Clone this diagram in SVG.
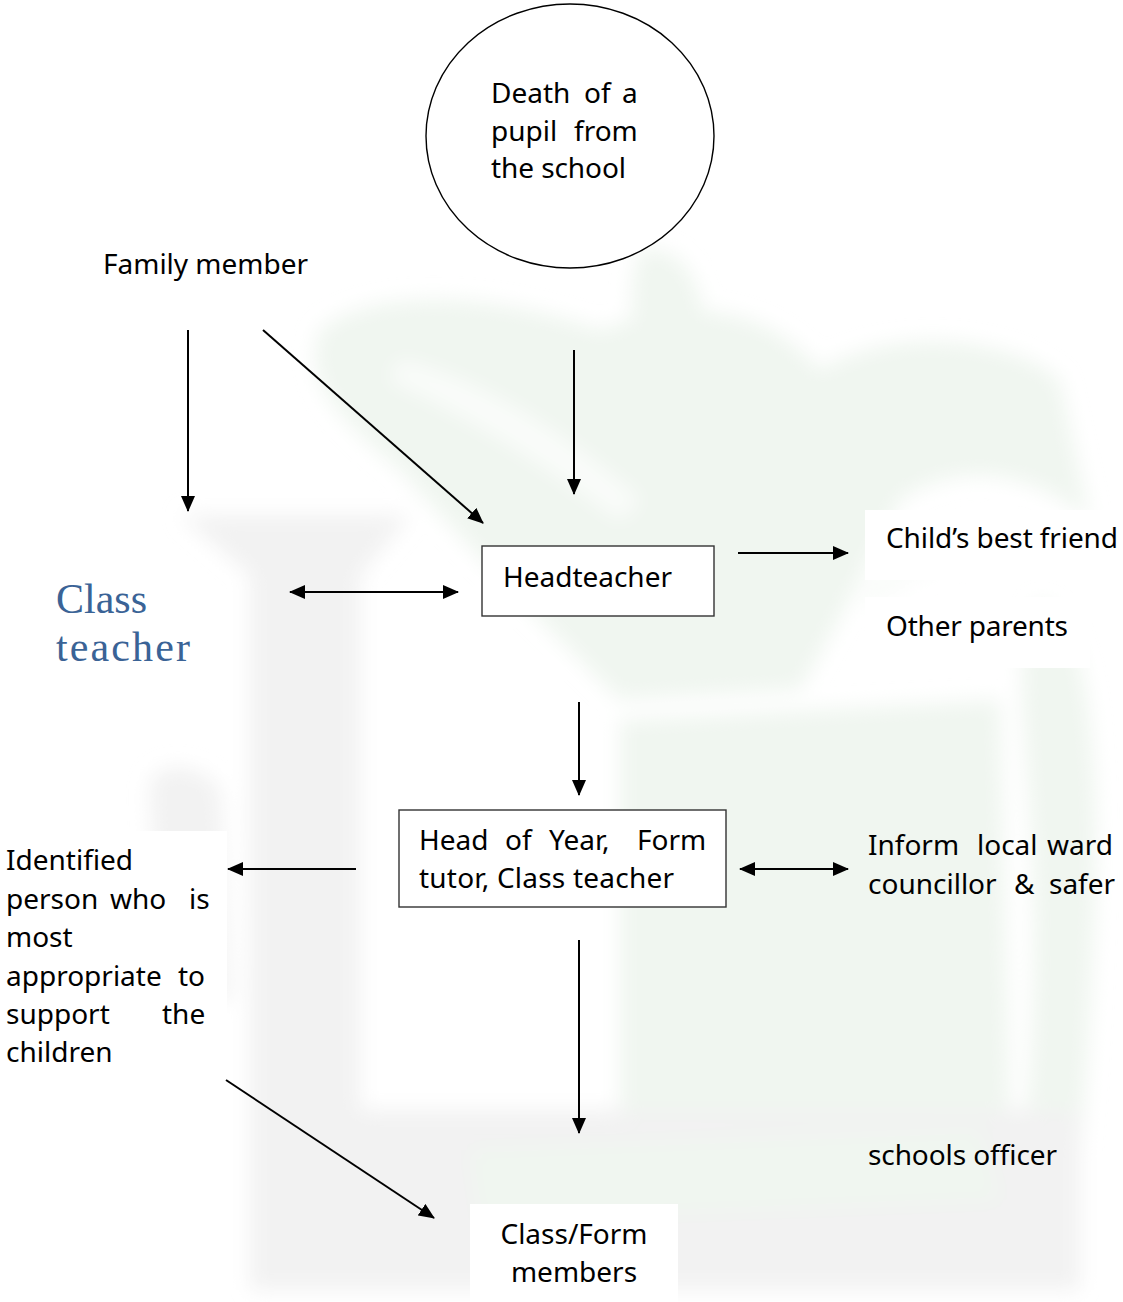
<svg xmlns="http://www.w3.org/2000/svg" width="1123" height="1302" viewBox="0 0 1123 1302">
  <style>
    .t { font-family: "Noto Sans", "Open Sans", sans-serif; font-size: 28px; fill: #000; }
    .serif { font-family: "Liberation Serif", "DejaVu Serif", serif; font-size: 42px; fill: #3a6396; }
    .box { fill: #fff; stroke: #333; stroke-width: 1.4; }
    .pad { fill: #fff; }
    .conn line { stroke: #000; stroke-width: 2; fill: none; }
    .wm-g { fill: #f0f6f0; }
    .wm-k { fill: #f2f2f2; }
    .wm-w { fill: #fafcfa; }
  </style>
  <defs>
    <marker id="arrow" viewBox="0 0 16 14" refX="15" refY="7" markerWidth="16" markerHeight="14" markerUnits="userSpaceOnUse" orient="auto-start-reverse">
      <path d="M0,0 L16,7 L0,14 z" fill="#000"/>
    </marker>
    <filter id="soft" x="-20%" y="-20%" width="140%" height="140%">
      <feGaussianBlur stdDeviation="10"/>
    </filter>
  </defs>

  <rect width="1123" height="1302" fill="#fff"/>

  <!-- faint background emblem -->
  <g id="emblem" filter="url(#soft)">
    <path class="wm-g" d="M320,330 C380,280 520,300 600,330 C680,300 760,300 820,370 C880,330 1000,330 1060,380 L1090,520 C1030,470 960,460 900,500 C870,560 840,620 800,690 L620,700 C560,640 480,560 400,470 C340,420 300,380 320,330 z"/>
    <path class="wm-g" d="M640,250 C690,240 720,300 700,420 L660,460 C640,380 620,300 640,250 z"/>
    <path class="wm-w" d="M400,360 C480,380 560,430 640,500 L620,520 C540,460 460,410 390,380 z"/>
    <path class="wm-w" d="M860,590 C900,560 960,530 1000,520 L1010,540 C960,555 910,580 870,610 z"/>
    <path class="wm-g" d="M1040,600 C1080,620 1100,700 1095,900 C1090,1050 1080,1200 1060,1290 L1000,1290 C1030,1150 1040,980 1030,820 C1025,720 1010,640 1040,600 z"/>
    <path class="wm-g" d="M620,720 L1000,700 L1010,1120 L620,1120 z"/>
    <path class="wm-k" d="M180,515 L410,515 L360,575 L360,1110 L1080,1110 L1080,1290 L250,1290 L250,575 z"/>
    <path class="wm-k" d="M150,790 C150,760 200,760 220,790 L230,1000 L160,1000 z"/>
    <path class="wm-g" d="M470,1150 L980,1130 L1000,1200 L480,1220 z"/>
  </g>

  <!-- connectors -->
  <g id="connectors" class="conn">
    <line x1="188" y1="330" x2="188" y2="511" marker-end="url(#arrow)"/>
    <line x1="263" y1="330" x2="483" y2="523" marker-end="url(#arrow)"/>
    <line x1="574" y1="350" x2="574" y2="494" marker-end="url(#arrow)"/>
    <line x1="290" y1="592" x2="458" y2="592" marker-start="url(#arrow)" marker-end="url(#arrow)"/>
    <line x1="738" y1="553" x2="848" y2="553" marker-end="url(#arrow)"/>
    <line x1="579" y1="702" x2="579" y2="795" marker-end="url(#arrow)"/>
    <line x1="356" y1="869" x2="228" y2="869" marker-end="url(#arrow)"/>
    <line x1="740" y1="869" x2="848" y2="869" marker-start="url(#arrow)" marker-end="url(#arrow)"/>
    <line x1="579" y1="940" x2="579" y2="1133" marker-end="url(#arrow)"/>
    <line x1="226" y1="1080" x2="434" y2="1218" marker-end="url(#arrow)"/>
  </g>

  <!-- start event -->
  <g id="death">
    <ellipse cx="570" cy="136" rx="144" ry="132" fill="#fff" stroke="#000" stroke-width="1.4"/>
    <text class="t" y="103"><tspan x="491">Death</tspan><tspan x="584">of</tspan><tspan x="622">a</tspan></text>
    <text class="t" y="141"><tspan x="491">pupil</tspan><tspan x="574">from</tspan></text>
    <text class="t" x="491" y="178" textLength="135">the school</text>
  </g>

  <g id="family">
    <text class="t" x="103" y="274" textLength="205">Family member</text>
  </g>

  <g id="headteacher">
    <rect class="box" x="482" y="546" width="232" height="70"/>
    <text class="t" x="503" y="587" textLength="169">Headteacher</text>
  </g>

  <g id="class-teacher">
    <text class="serif" x="56" y="613" textLength="91">Class</text>
    <text class="serif" x="56" y="661" textLength="134">teacher</text>
  </g>

  <g id="best-friend">
    <rect class="pad" x="865" y="510" width="258" height="70"/>
    <text class="t" x="886" y="548" textLength="232">Child’s best friend</text>
  </g>

  <g id="other-parents">
    <rect class="pad" x="865" y="597" width="225" height="71"/>
    <text class="t" x="886" y="636" textLength="182">Other parents</text>
  </g>

  <g id="head-of-year">
    <rect class="box" x="399" y="810" width="327" height="97"/>
    <text class="t" y="850"><tspan x="419">Head</tspan><tspan x="505">of</tspan><tspan x="549">Year,</tspan><tspan x="637">Form</tspan></text>
    <text class="t" x="419" y="888" textLength="255">tutor, Class teacher</text>
  </g>

  <g id="identified-person">
    <rect class="pad" x="0" y="831" width="227" height="247"/>
    <text class="t" x="6" y="870">Identified</text>
    <text class="t" y="909"><tspan x="6">person</tspan><tspan x="110">who</tspan><tspan x="189">is</tspan></text>
    <text class="t" x="6" y="947">most</text>
    <text class="t" y="986"><tspan x="6">appropriate</tspan><tspan x="178">to</tspan></text>
    <text class="t" y="1024"><tspan x="6">support</tspan><tspan x="162">the</tspan></text>
    <text class="t" x="6" y="1062">children</text>
  </g>

  <g id="councillor">
    <text class="t" y="855"><tspan x="868">Inform</tspan><tspan x="977">local</tspan><tspan x="1047">ward</tspan></text>
    <text class="t" y="894"><tspan x="868">councillor</tspan><tspan x="1014">&amp;</tspan><tspan x="1049">safer</tspan></text>
  </g>

  <g id="schools-officer">
    <text class="t" x="868" y="1165" textLength="189">schools officer</text>
  </g>

  <g id="class-form">
    <rect class="pad" x="470" y="1204" width="208" height="98"/>
    <text class="t" x="574" y="1244" text-anchor="middle">Class/Form</text>
    <text class="t" x="574" y="1282" text-anchor="middle">members</text>
  </g>
</svg>
